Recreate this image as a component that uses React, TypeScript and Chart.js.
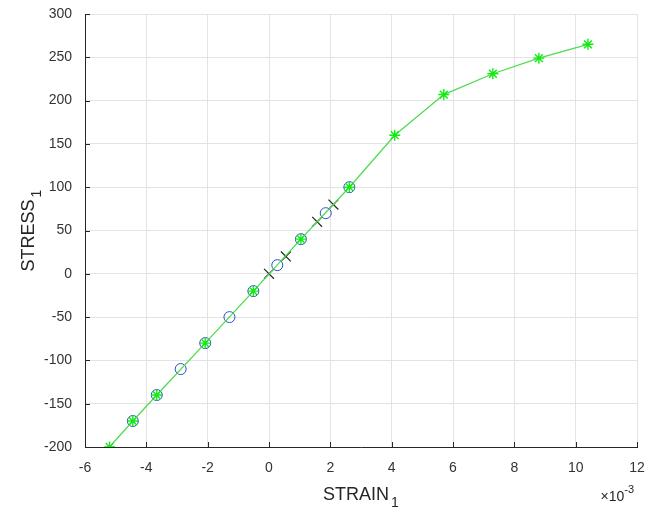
import React, { useEffect, useRef } from "react";
import { Chart, registerables } from "chart.js";

Chart.register(...registerables);

// Loading path (line + asterisk markers), strain in units of 1e-3
const strainLoad = [-5.2, -4.44, -3.66, -2.08, -0.51, 1.04, 2.62, 4.1, 5.7, 7.3, 8.8, 10.4];
const stressLoad = [-200, -170, -140, -80, -20, 40, 100, 160, 207, 231, 249, 265];

// Blue open circles
const strainCircle = [-4.44, -3.66, -2.88, -2.08, -1.29, -0.51, 0.27, 1.04, 1.85, 2.62];
const stressCircle = [-170, -140, -110, -80, -50, -20, 10, 40, 70, 100];

// Black crosses
const strainCross = [0, 0.55, 1.57, 2.1];
const stressCross = [0, 20, 60, 80];

const xMin = -6, xMax = 12, xStep = 2;
const yMin = -200, yMax = 300, yStep = 50;

const xLabel = "STRAIN";
const yLabel = "STRESS";
const labelSub = "1";
const exponentBase = "\u00d710";
const exponentPow = "-3";

const FONT = '"Liberation Sans", Arial, Helvetica, sans-serif';
const AXIS = "#262626";

const zip = (xs: number[], ys: number[]) => xs.map((x, i) => ({ x, y: ys[i] }));

const decorPlugin = {
  id: "decor",
  afterDraw(chart: any) {
    const { ctx, chartArea, scales } = chart;
    const { left, right, top, bottom } = chartArea;
    const xs = scales.x, ys = scales.y;
    ctx.save();
    // inward tick marks
    ctx.strokeStyle = AXIS;
    ctx.lineWidth = 1;
    ctx.beginPath();
    xs.ticks.forEach((t: any) => {
      const px = Math.round(xs.getPixelForValue(t.value)) + 0.5;
      ctx.moveTo(px, bottom);
      ctx.lineTo(px, bottom - 5);
    });
    ys.ticks.forEach((t: any) => {
      const py = Math.round(ys.getPixelForValue(t.value)) + 0.5;
      ctx.moveTo(left, py);
      ctx.lineTo(left + 5, py);
    });
    ctx.stroke();

    ctx.fillStyle = AXIS;
    ctx.textBaseline = "alphabetic";
    // x title with subscript
    ctx.font = `18px ${FONT}`;
    const wMain = ctx.measureText(xLabel).width;
    ctx.font = `14px ${FONT}`;
    const wSub = ctx.measureText(labelSub).width;
    const cx = (left + right) / 2;
    const startX = cx - (wMain + wSub + 2) / 2;
    ctx.font = `18px ${FONT}`;
    ctx.textAlign = "left";
    ctx.fillText(xLabel, startX, 500);
    ctx.font = `14px ${FONT}`;
    ctx.fillText(labelSub, startX + wMain + 2, 507);

    // y title with subscript, rotated
    ctx.save();
    ctx.translate(34, (top + bottom) / 2);
    ctx.rotate(-Math.PI / 2);
    ctx.font = `18px ${FONT}`;
    const wyMain = ctx.measureText(yLabel).width;
    const sy = -(wyMain + wSub + 2) / 2;
    ctx.fillText(yLabel, sy, 0);
    ctx.font = `14px ${FONT}`;
    ctx.fillText(labelSub, sy + wyMain + 2, 7);
    ctx.restore();

    // exponent label
    ctx.font = `11px ${FONT}`;
    const wPow = ctx.measureText(exponentPow).width;
    const endX = right - 3;
    ctx.font = `14px ${FONT}`;
    ctx.textAlign = "right";
    ctx.fillText(exponentBase, endX - wPow, 501);
    ctx.font = `11px ${FONT}`;
    ctx.textAlign = "left";
    ctx.fillText(exponentPow, endX - wPow, 493);
    ctx.restore();
  },
};

export default function App() {
  const ref = useRef<HTMLCanvasElement | null>(null);
  useEffect(() => {
    if (!ref.current) return;
    const chart = new Chart(ref.current, {
      type: "scatter",
      data: {
        datasets: [
          {
            label: "load",
            data: zip(strainLoad, stressLoad),
            showLine: true,
            borderColor: "#4fdc4f",
            borderWidth: 1.3,
            pointStyle: "star",
            pointRadius: 5.5,
            pointBorderColor: "#10ec10",
            pointBackgroundColor: "#10ec10",
            pointBorderWidth: 1.4,
            order: 0,
          } as any,
          {
            label: "circles",
            data: zip(strainCircle, stressCircle),
            showLine: false,
            pointStyle: "circle",
            pointRadius: 5.5,
            pointBorderColor: "#2b50c8",
            pointBackgroundColor: "rgba(0,0,0,0)",
            pointBorderWidth: 1,
            order: 1,
          } as any,
          {
            label: "crosses",
            data: zip(strainCross, stressCross),
            showLine: false,
            pointStyle: "crossRot",
            pointRadius: 7,
            pointBorderColor: "#1c2e1c",
            pointBorderWidth: 1.2,
            order: 2,
          } as any,
        ],
      },
      options: {
        animation: false,
        responsive: false,
        layout: { padding: { top: 14, right: 12, left: 0, bottom: 0 } },
        plugins: { legend: { display: false }, tooltip: { enabled: false } },
        scales: {
          x: {
            type: "linear",
            min: xMin,
            max: xMax,
            ticks: {
              stepSize: xStep,
              padding: 13,
              color: "#333333",
              font: { family: FONT, size: 14 },
            },
            grid: { color: "#e3e3e3", drawTicks: false },
            border: { color: AXIS, width: 1 },
            afterFit: (s: any) => {
              s.height = 61;
              s.paddingLeft = 0;
              s.paddingRight = 0;
            },
          },
          y: {
            type: "linear",
            min: yMin,
            max: yMax,
            ticks: {
              stepSize: yStep,
              padding: 13,
              color: "#333333",
              font: { family: FONT, size: 14 },
            },
            grid: { color: "#e3e3e3", drawTicks: false },
            border: { color: AXIS, width: 1 },
            afterFit: (s: any) => {
              s.width = 85;
              s.paddingTop = 0;
              s.paddingBottom = 0;
            },
          },
        },
      },
      plugins: [decorPlugin],
    });
    return () => chart.destroy();
  }, []);
  return (
    <div style={{ position: "fixed", left: 0, top: 0, width: 649, height: 508, background: "#fff" }}>
      <canvas ref={ref} width={649} height={508} style={{ display: "block" }} />
    </div>
  );
}
